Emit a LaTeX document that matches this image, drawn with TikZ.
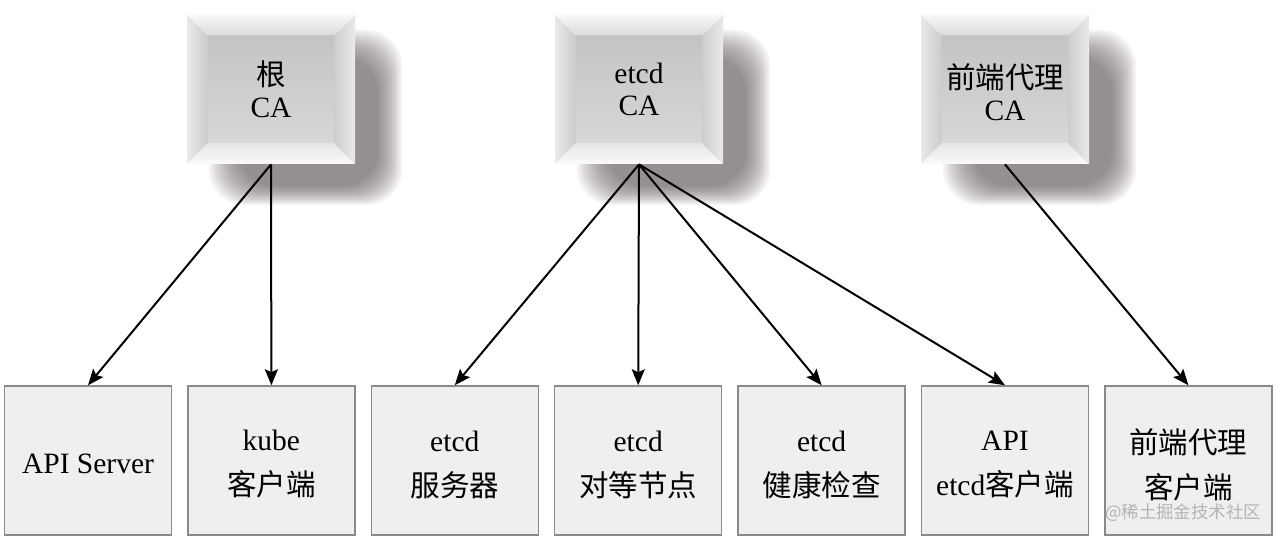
\documentclass[tikz,border=0pt]{standalone}
\usepackage{fontspec}
\setmainfont{Liberation Serif}
\newfontfamily\cjk{Noto Sans CJK SC}
\usetikzlibrary{arrows.meta}
\definecolor{shadowc}{HTML}{5E5252}
\definecolor{leaffill}{HTML}{EFEFEF}
\definecolor{leafborder}{HTML}{8A8A8A}
\definecolor{wmgray}{HTML}{B4B4B4}
\definecolor{bvtopa}{HTML}{F8F8F8}
\definecolor{bvtopb}{HTML}{DADADA}
\definecolor{bvlefta}{HTML}{EAEAEA}
\definecolor{bvleftb}{HTML}{CACACC}
\definecolor{bvrighta}{HTML}{CDCDCF}
\definecolor{bvrightb}{HTML}{EAEAEA}
\definecolor{bvbota}{HTML}{E6E6E6}
\definecolor{bvbotb}{HTML}{FAFAFA}
\definecolor{facea}{HTML}{C2C4C6}
\definecolor{faceb}{HTML}{D6D7D8}
\newcommand{\cabevel}[2]{%
  \pgfmathsetmacro\xa{#1}\pgfmathsetmacro\xb{#1+168}%
  \pgfmathsetmacro\ya{-#2}\pgfmathsetmacro\yb{-#2-149}%
  \foreach \i in {0,...,15}{%
    \fill[shadowc,opacity=0.06,rounded corners=18]
      (\xa+22+30*\i/15,\ya-15-28*\i/15) rectangle (\xb+47-24*\i/15,\yb-41+19*\i/15);}
  \shade[top color=bvtopa, bottom color=bvtopb] (\xa,\ya) -- (\xb,\ya) -- (\xb-21,\ya-21) -- (\xa+21,\ya-21) -- cycle;
  \shade[left color=bvlefta, right color=bvleftb] (\xa,\ya) -- (\xa+21,\ya-21) -- (\xa+21,\yb+21) -- (\xa,\yb) -- cycle;
  \shade[left color=bvrighta, right color=bvrightb] (\xb,\ya) -- (\xb-21,\ya-21) -- (\xb-21,\yb+21) -- (\xb,\yb) -- cycle;
  \shade[top color=bvbota, bottom color=bvbotb] (\xa,\yb) -- (\xa+21,\yb+21) -- (\xb-21,\yb+21) -- (\xb,\yb) -- cycle;
  \shade[top color=facea, bottom color=faceb] (\xa+21,\ya-21) rectangle (\xb-21,\yb+21);
}
\begin{document}
\begin{tikzpicture}[x=0.5pt,y=0.5pt,
  cabox/.style={minimum width=84pt,minimum height=74.5pt,inner sep=0pt},
  catext/.style={inner sep=0pt,align=center,font=\fontsize{14.75}{16}\selectfont},
  leaf/.style={draw=leafborder,line width=0.75pt,fill=leaffill,minimum width=83.5pt,minimum height=74.5pt,
    inner sep=0pt},
  leaftext/.style={inner sep=0pt,align=center,font=\fontsize{14.75}{22.5}\selectfont},
  arr/.style={line width=1pt,-{Stealth[length=8pt,width=6.5pt,inset=1.5pt]}},
  wm/.style={text=wmgray,font=\cjk\fontsize{8.7}{10}\selectfont,inner sep=0pt}]
\useasboundingbox (0,0) rectangle (1280,-540);
\fill[white] (0,0) rectangle (1280,-540);
% CA boxes (shadow + bevel)
\cabevel{187}{15}
\cabevel{555}{15}
\cabevel{921}{15}
\node[cabox] (rootca) at (271,-89.5) {};
\node[cabox] (etcdca) at (639,-89.5) {};
\node[cabox] (proxyca) at (1005,-89.5) {};
\node[catext] (rootcat) at (rootca.center) {{\cjk 根}\\CA};
\node[catext] (etcdcat) at (etcdca.center) {etcd\\CA};
\node[catext] (proxycat) at ([yshift=-1.5pt]proxyca.center) {{\cjk 前端代理}\\CA};
% leaf boxes
\node[leaf] (api) at (88,-460.5) {};
\node[leaf] (kube) at (271.4,-460.5) {};
\node[leaf] (etcdsrv) at (454.8,-460.5) {};
\node[leaf] (etcdpeer) at (638.2,-460.5) {};
\node[leaf] (etcdhealth) at (821.6,-460.5) {};
\node[leaf] (apietcd) at (1005,-460.5) {};
\node[leaf] (proxycli) at (1188.4,-460.5) {};
\node[leaftext] (apit) at ([yshift=-1.5pt]api.center) {API Server};
\node[leaftext] (kubet) at ([yshift=-2pt]kube.center) {kube\\{\cjk 客户端}};
\node[leaftext] (etcdsrvt) at ([yshift=-2pt]etcdsrv.center) {etcd\\{\cjk 服务器}};
\node[leaftext] (etcdpeert) at ([yshift=-2pt]etcdpeer.center) {etcd\\{\cjk 对等节点}};
\node[leaftext] (etcdhealtht) at ([yshift=-2pt]etcdhealth.center) {etcd\\{\cjk 健康检查}};
\node[leaftext] (apietcdt) at ([yshift=-2pt]apietcd.center) {API\\etcd{\cjk 客户端}};
\node[leaftext] (proxyclit) at ([yshift=-2pt]proxycli.center) {{\cjk 前端代理}\\{\cjk 客户端}};
% arrows
\draw[arr] (rootca.south) -- (api.north);
\draw[arr] (rootca.south) -- (kube.north);
\draw[arr] (etcdca.south) -- (etcdsrv.north);
\draw[arr] (etcdca.south) -- (etcdpeer.north);
\draw[arr] (etcdca.south) -- (etcdhealth.north);
\draw[arr] (etcdca.south) -- (apietcd.north);
\draw[arr] (proxyca.south) -- (proxycli.north);
% watermark
\node[wm] (wmark) at (1183,-513) {@稀土掘金技术社区};
\end{tikzpicture}
\end{document}
